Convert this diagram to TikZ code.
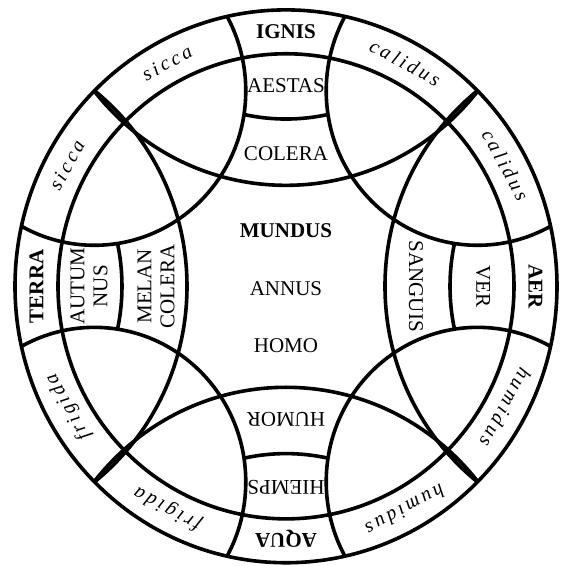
\documentclass[tikz,border=0pt]{standalone}
\usepackage{fontspec}
\setmainfont{Liberation Serif}
\newfontfamily\qualityfont[LetterSpace=16]{Liberation Serif}

\begin{document}
\begin{tikzpicture}[x=1pt, y=1pt, yscale=1.02, line width=3.6pt,
    namebox/.style={font=\fontsize{21}{23}\selectfont, align=center, inner sep=0pt},
    elementbox/.style={font=\fontsize{21}{23}\selectfont\bfseries, inner sep=0pt, text depth=0pt},
    qualitybox/.style={font=\qualityfont\itshape\fontsize{20}{22}\selectfont, anchor=base, inner sep=0pt}]

    % --- Area of the picture ---
    \useasboundingbox (-286,-274.2) rectangle (276,280.7);

    % --- Outer ring ---
    \draw (0,0) circle (271);
    \draw (0,0) circle (228);

    % --- The eight big circles, cut at the rim ---
    \begin{scope}
        \clip (0,0) circle (271);
        \foreach \a in {0,90,180,270} {
            % circle of the element (top, left, bottom, right)
            \draw (\a+90:344.1) circle (245.1);
            % circle of the corner, centred on the rim
            \draw (\a+135:271) circle (151.4);
        }
    \end{scope}

    % --- Dividers between season and humour ---
    \foreach \a in {0,90,180,270} {
        \draw[rotate=\a] (0,364) ++(257.9:200) arc (257.9:282.1:200);
    }

    % --- Elements, seasons and humours ---
    \foreach \a/\elem/\season/\humour [count=\i] in
        {0/IGNIS/AESTAS/COLERA, 90/TERRA/{AUTUM\\NUS}/{MELAN\\COLERA},
         180/AQUA/HIEMPS/HUMOR, 270/AER/VER/SANGUIS} {
        \node[elementbox, rotate=\a] (element\i) at (\a+90:249.5) {\elem};
        \node[namebox, rotate=\a] (season\i) at (\a+90:197) {\season};
        \node[namebox, rotate=\a] (humour\i) at (\a+90:130) {\humour};
    }

    % --- Qualities in the ring ---
    \foreach \a/\quality [count=\i] in {28.5/calidus, 61.5/calidus, 118.5/sicca, 151.5/sicca,
        208.5/frigida, 241.5/frigida, 298.5/humidus, 331.5/humidus} {
        \node[qualitybox, rotate=\a-90] (quality\i) at (\a:243) {\quality};
    }

    % --- Centre ---
    \node[elementbox] (mundus) at (0,55) {MUNDUS};
    \node[namebox] (annus) at (0,-2) {ANNUS};
    \node[namebox] (homo) at (0,-58) {HOMO};

\end{tikzpicture}
\end{document}
